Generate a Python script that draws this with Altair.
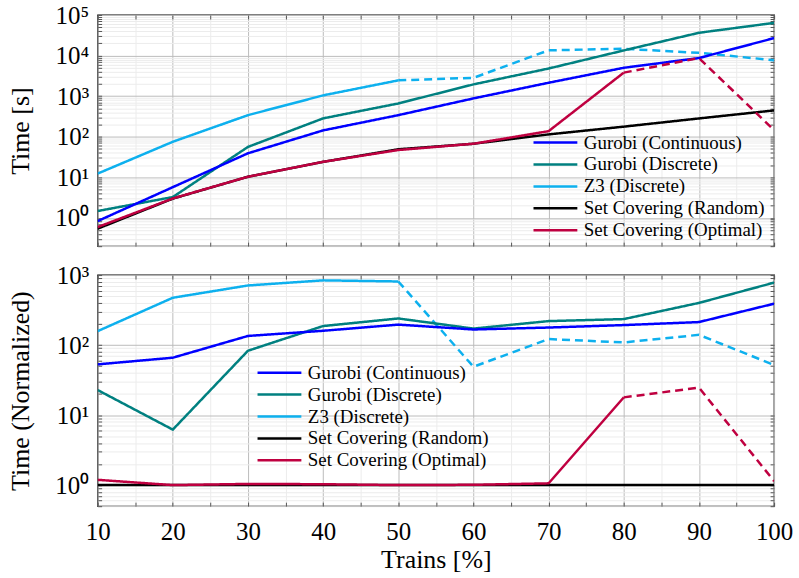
import json
import altair as alt
import pandas as pd

# ---------------- data ----------------
x_vals = [10, 20, 30, 40, 50, 60, 70, 80, 90, 100]

series_names = ["Gurobi (Continuous)", "Gurobi (Discrete)", "Z3 (Discrete)",
                "Set Covering (Random)", "Set Covering (Optimal)"]
series_colors = ["#0000ff", "#008080", "#0db0ee", "#000000", "#bf0040"]
draw_order = ["Z3 (Discrete)", "Gurobi (Discrete)", "Gurobi (Continuous)",
              "Set Covering (Random)", "Set Covering (Optimal)"]

# top panel: Time [s]
top_gurobi_cont = [0.83, 5.7, 39, 143, 340, 880, 2140, 5000, 8700, 27000]
top_gurobi_disc = [1.47, 3.25, 56, 283, 660, 1950, 4800, 13400, 36500, 64000]
top_z3 = [12.3, 75, 340, 1045, 2450, 2830, 13500, 14700, 11700, 7700]
top_sc_random = [0.54, 2.97, 10.3, 24, 49, 67, 114, 177, 282, 445]
top_sc_opt = [0.59, 3.0, 10.3, 24, 47, 67, 137, 3800, 8700, 145]

# bottom panel: Time (Normalized)
bot_gurobi_cont = [53, 66, 135, 160, 196, 167, 178, 193, 213, 390]
bot_gurobi_disc = [22.8, 6.2, 83, 187, 240, 172, 220, 235, 400, 780]
bot_z3 = [158, 474, 710, 840, 810, 49, 122, 109, 140, 52]
bot_sc_random = [1, 1, 1, 1, 1, 1, 1, 1, 1, 1]
bot_sc_opt = [1.19, 1.0, 1.04, 1.03, 1.0, 1.01, 1.06, 17.9, 24.7, 1.14]

# x from which a series is drawn dashed
dash_start = {"Z3 (Discrete)": 50, "Set Covering (Optimal)": 80}

top_values = {
    "Gurobi (Continuous)": top_gurobi_cont,
    "Gurobi (Discrete)": top_gurobi_disc,
    "Z3 (Discrete)": top_z3,
    "Set Covering (Random)": top_sc_random,
    "Set Covering (Optimal)": top_sc_opt,
}
bot_values = {
    "Gurobi (Continuous)": bot_gurobi_cont,
    "Gurobi (Discrete)": bot_gurobi_disc,
    "Z3 (Discrete)": bot_z3,
    "Set Covering (Random)": bot_sc_random,
    "Set Covering (Optimal)": bot_sc_opt,
}


def build(values):
    rows = []
    for i, name in enumerate(draw_order):
        ds = dash_start.get(name)
        for x, y in zip(x_vals, values[name]):
            if ds is None or x <= ds:
                rows.append(dict(series=name, x=x, y=y, seg="solid", key=f"{i}a"))
            if ds is not None and x >= ds:
                rows.append(dict(series=name, x=x, y=y, seg="dashed", key=f"{i}b"))
    return pd.DataFrame(rows)


top_df = build(top_values)
bot_df = build(bot_values)

# ---------------- styling ----------------
FONT = "Liberation Serif"
DEC = "abs(log(datum.value)/LN10 - round(log(datum.value)/LN10)) < 0.001"
SUP = json.dumps(["\u207b\u00b9", "\u2070", "\u00b9", "\u00b2", "\u00b3", "\u2074", "\u2075"],
                 ensure_ascii=False)
YLABEL = f"{DEC} ? '10' + {SUP}[round(log(datum.value)/LN10)+1] : ''"


def log_ticks(lo_exp, hi_exp, lo, hi):
    vals = []
    for e in range(lo_exp, hi_exp + 1):
        for m in range(1, 10):
            v = m * 10 ** e
            if lo - 1e-9 <= v <= hi + 1e-9:
                vals.append(v)
    return vals


x_ticks = list(range(10, 101, 5))
INWARD = {"expr": "-4"}


def panel(df, ydomain, yticks, ytitle, lx, ly, bottom):
    xscale = alt.Scale(domain=[10, 100], nice=False, zero=False)
    yscale = alt.Scale(type="log", domain=ydomain, nice=False)
    xaxis = alt.Axis(
        values=x_ticks,
        labelExpr="datum.value % 10 == 0 ? datum.value : ''",
        labels=bottom,
        grid=True,
        gridColor={"condition": {"test": "datum.value % 10 == 0", "value": "#bcbcbc"},
                   "value": "#ececec"},
        gridWidth=1,
        domain=False,
        tickSize=INWARD,
        tickColor="#555555",
        labelFont=FONT, labelFontSize=25, labelColor="black", labelPadding=17,
        labelFlush=False,
        title="Trains [%]" if bottom else None,
        titleFont=FONT, titleFontSize=26, titleFontWeight="normal", titleColor="black",
        titlePadding=3,
    )
    yaxis = alt.Axis(
        values=yticks,
        labelExpr=YLABEL,
        grid=True,
        gridColor={"condition": {"test": DEC, "value": "#bcbcbc"}, "value": "#ececec"},
        gridWidth=1,
        domain=False,
        tickSize=INWARD,
        tickColor="#555555",
        labelFont=FONT, labelFontSize=25, labelColor="black", labelPadding=13,
        labelFlush=False,
        title=ytitle,
        titleFont=FONT, titleFontSize=26, titleFontWeight="normal", titleColor="black",
        titlePadding=21,
    )
    lines = alt.Chart(df).mark_line(strokeWidth=2.5, clip=True).encode(
        x=alt.X("x:Q", scale=xscale, axis=xaxis),
        y=alt.Y("y:Q", scale=yscale, axis=yaxis),
        color=alt.Color(
            "series:N",
            scale=alt.Scale(domain=series_names, range=series_colors),
            legend=alt.Legend(
                orient="none", legendX=lx, legendY=ly, title=None,
                symbolType="stroke", symbolSize=1936, symbolStrokeWidth=2.5,
                labelFont=FONT, labelFontSize=19, labelColor="black", labelLimit=400,
                labelOffset=5, rowPadding=2, padding=0, clipHeight=20,
            ),
        ),
        strokeDash=alt.StrokeDash(
            "seg:N",
            scale=alt.Scale(domain=["solid", "dashed"], range=[[1, 0], [8, 5]]),
            legend=None,
        ),
        detail="key:N",
    )
    mirror = alt.Chart(df).mark_line(strokeOpacity=0).encode(
        x=alt.X("x:Q", scale=xscale, axis=alt.Axis(
            orient="top", values=x_ticks, labels=False, grid=False, domain=False,
            tickSize=INWARD, tickColor="#555555", title=None)),
        y=alt.Y("y:Q", scale=yscale, axis=alt.Axis(
            orient="right", values=yticks, labels=False, grid=False, domain=False,
            tickSize=INWARD, tickColor="#555555", title=None)),
        detail="key:N",
    )
    return alt.layer(lines, mirror).resolve_axis(x="independent", y="independent").properties(
        width=679, height=232)


top = panel(top_df, [0.2, 1e5], log_ticks(-1, 5, 0.2, 1e5), "Time [s]", 436, 118, False)
bot = panel(bot_df, [0.5, 1000], log_ticks(-1, 3, 0.5, 1000), "Time (Normalized)", 159, 88, True)

chart = alt.vconcat(top, bot, spacing=14).resolve_legend(color="independent").configure_view(
    stroke="black", strokeWidth=1.3
).configure_legend(
    labelFont=FONT
).properties(
    padding={"left": 7, "top": 1, "right": 5, "bottom": 5},
    background="white",
)

chart.save("out.html", embed_options={"renderer": "svg", "actions": False})
